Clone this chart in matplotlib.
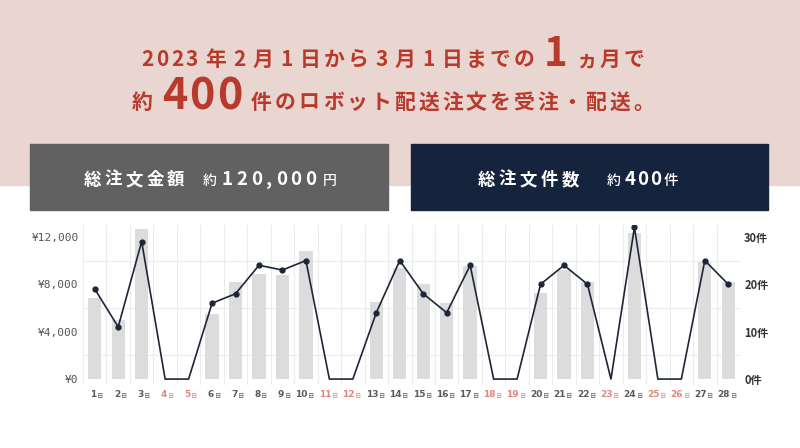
import matplotlib
matplotlib.use("Agg")
import matplotlib.pyplot as plt
from matplotlib.patches import Rectangle
import numpy as np

plt.rcParams['font.family'] = ['Noto Sans CJK JP', 'DejaVu Sans']

# データ：2023年2月の日別注文金額（円）と注文件数
days = list(range(1, 29))
amount = [6800, 5000, 12700, 0, 0, 5500, 8200, 8900, 8800, 10800, 0, 0, 6500, 9400,
          8000, 6400, 9500, 0, 0, 7300, 9200, 8200, 0, 12300, 0, 0, 9900, 8200]
orders = [19, 11, 29, 0, 0, 16, 18, 24, 23, 25, 0, 0, 14, 25,
          18, 14, 24, 0, 0, 20, 24, 20, 0, 32, 0, 0, 25, 20]
holidays = [4, 5, 11, 12, 18, 19, 23, 25, 26]

yen_ticks = [0, 4000, 8000, 12000]
yen_labels = ['¥0', '¥4,000', '¥8,000', '¥12,000']
cnt_ticks = [0, 10, 20, 30]
cnt_labels = ['0件', '10件', '20件', '30件']

RED = '#b83a2d'
W, H = 800, 448

fig = plt.figure(figsize=(8, 4.48), dpi=100)
fig.patch.set_facecolor('white')

# 上部のピンク帯と2つのボックス
fig.add_artist(Rectangle((0, (H - 185) / H), 1, 185 / H, transform=fig.transFigure,
                         color='#ead6d0', zorder=0))
fig.add_artist(Rectangle((30 / W, (H - 210) / H), 358 / W, 66 / H, transform=fig.transFigure,
                         color='#616161', zorder=1))
fig.add_artist(Rectangle((411 / W, (H - 210) / H), 357 / W, 66 / H, transform=fig.transFigure,
                         color='#15233d', zorder=1))


def draw_pieces(pieces, cx, y, color):
    # 大きさの違う文字をベースラインで並べ、字間をあけて中央寄せ
    r = fig.canvas.get_renderer()
    items = []
    for s, size, gap, track, weight in pieces:
        for k, ch in enumerate(s):
            t = fig.text(0, y, ch, fontsize=size, color=color, fontweight=weight,
                         ha='left', va='baseline', zorder=5)
            items.append((t, gap if k == 0 else track))
    widths = [t.get_window_extent(r).width for t, g in items]
    total = sum(widths) + sum(g for t, g in items)
    x = cx - total / 2
    for (t, g), w in zip(items, widths):
        x += g
        t.set_x(x / W)
        x += w


B = 'bold'
draw_pieces([('2023', 15, 0, 2.5, B), ('年', 15, 7, 0, B), ('2', 15, 7, 0, B), ('月', 15, 7, 0, B),
             ('1', 15, 7, 0, B), ('日から', 15, 7, 3, B), ('3', 15, 7, 0, B), ('月', 15, 7, 0, B),
             ('1', 15, 7, 0, B), ('日までの', 15, 7, 3, B), ('1', 29, 9, 0, B),
             ('ヵ月で', 15, 9, 3, B)], 393, (H - 66) / H, RED)
draw_pieces([('約', 15, 0, 0, B), ('400', 31, 9, 2, B),
             ('件のロボット配送注文を受注・配送。', 15, 9, 3, B)],
            393, (H - 109) / H, RED)

draw_pieces([('総注文金額', 12.5, 0, 3.5, B), ('約', 10, 18, 0, 'medium'),
             ('120,000', 13.5, 5, 3.8, B), ('円', 10, 6, 0, 'medium')],
            210, (H - 185) / H, 'white')
draw_pieces([('総注文件数', 12.5, 0, 3.5, B), ('約', 10, 28, 0, 'medium'),
             ('400', 13.5, 4, 2, B), ('件', 10.5, 2, 0, 'medium')],
            578, (H - 185) / H, 'white')

# グラフ本体
ax = fig.add_axes([83 / W, 63 / H, 657 / W, 160 / H])
ax.bar(days, amount, width=0.57, color='#dcdcdc', zorder=2)
ax.set_xlim(0.5, 28.5)
ax.set_ylim(-500, 13000)
ax.set_xticks(np.arange(0.5, 29, 1), minor=True)
ax.set_xticks([])
ax.set_yticks(yen_ticks)
ax.set_yticklabels(yen_labels, family='DejaVu Sans Mono', fontsize=8, color='#555555')
ax.set_yticks(range(0, 13000, 2000), minor=True)
ax.grid(True, which='minor', color='#ececec', lw=0.8, zorder=0)
ax.tick_params(which='both', length=0)
ax.tick_params(axis='y', pad=3)
for s in ax.spines.values():
    s.set_visible(False)
ax.set_axisbelow(True)

ax2 = ax.twinx()
ax2.set_ylim(-1.25, 32.5)
ax2.plot(days, orders, color='#1d2638', lw=1.2, zorder=3)
nz = [i for i, v in enumerate(orders) if v > 0]
ax2.plot([days[i] for i in nz], [orders[i] for i in nz], 'o', color='#1d2638', ms=3.5, zorder=4)
ax2.set_yticks(cnt_ticks)
ax2.set_yticklabels(cnt_labels, fontsize=8, fontweight='bold', color='#333333')
ax2.tick_params(length=0, pad=3)
for s in ax2.spines.values():
    s.set_visible(False)

# 日付ラベル（土日祝は赤）
for d in days:
    c = '#e0867b' if d in holidays else '#5a5a5a'
    ax.text(d + 0.08, -0.03, str(d), transform=ax.get_xaxis_transform(), ha='right',
            va='top', fontsize=6.5, color=c, fontweight='bold', family='DejaVu Sans')
    ax.text(d + 0.1, -0.045, '日', transform=ax.get_xaxis_transform(), ha='left',
            va='top', fontsize=4.5, color=c)

fig.savefig('out.png', dpi=100)
